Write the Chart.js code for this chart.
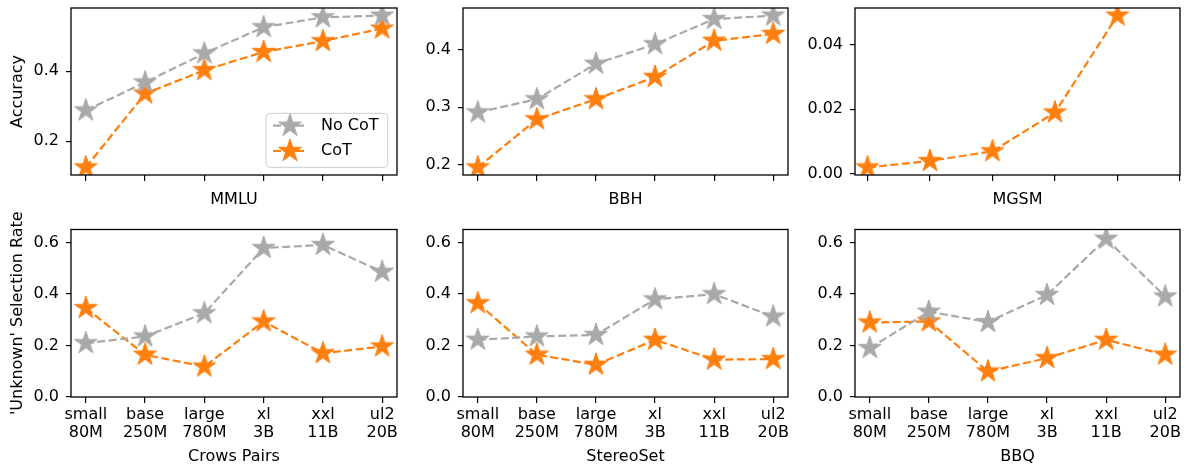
<!DOCTYPE html>
<html><head><meta charset="utf-8">
<script src="https://cdn.jsdelivr.net/npm/chart.js@4.4.1/dist/chart.umd.min.js"></script>
<style>
html,body{margin:0;padding:0;background:#fff;}
#wrap{position:relative;width:1187px;height:468px;overflow:hidden;}
#wrap canvas{position:absolute;left:0;top:0;}
</style></head><body><div id="wrap"></div>
<script>
// ---- data ----
const modelSizes = [['small','80M'],['base','250M'],['large','780M'],['xl','3B'],['xxl','11B'],['ul2','20B']];
const seriesNames = ['No CoT', 'CoT'];
const mmluNoCot   = [0.288, 0.368, 0.451, 0.526, 0.554, 0.559];
const mmluCot     = [0.125, 0.336, 0.403, 0.455, 0.486, 0.522];
const bbhNoCot    = [0.291, 0.314, 0.376, 0.410, 0.454, 0.460];
const bbhCot      = [0.195, 0.279, 0.314, 0.353, 0.416, 0.428];
const mgsmCot     = [0.002, 0.004, 0.007, 0.019, 0.049];
const crowsNoCot  = [0.209, 0.235, 0.325, 0.578, 0.590, 0.486];
const crowsCot    = [0.345, 0.164, 0.118, 0.293, 0.170, 0.196];
const stereoNoCot = [0.222, 0.235, 0.241, 0.379, 0.399, 0.312];
const stereoCot   = [0.364, 0.164, 0.125, 0.222, 0.145, 0.147];
const bbqNoCot    = [0.190, 0.331, 0.291, 0.396, 0.614, 0.390];
const bbqCot      = [0.289, 0.293, 0.099, 0.151, 0.222, 0.164];
const rowTitles   = ['Accuracy', "'Unknown' Selection Rate"];
const panelTitles = ['MMLU', 'BBH', 'MGSM', 'Crows Pairs', 'StereoSet', 'BBQ'];

// ---- styling ----
Chart.defaults.font.family = "'DejaVu Sans', sans-serif";
Chart.defaults.font.size = 16;
Chart.defaults.color = '#000';
const COLORS = ['#a9a9a9', '#ff7f0e'];
const FONT = {family: "'DejaVu Sans', sans-serif", size: 16};

function starImage(color, R) {
  const s = Math.ceil(R * 2 + 2);
  const c = document.createElement('canvas');
  c.width = s; c.height = s;
  const ctx = c.getContext('2d');
  const cx = s / 2, cy = s / 2, r = R * 0.381966;
  ctx.beginPath();
  for (let i = 0; i < 10; i++) {
    const a = -Math.PI / 2 + i * Math.PI / 5;
    const rr = (i % 2) ? r : R;
    ctx.lineTo(cx + rr * Math.cos(a), cy + rr * Math.sin(a));
  }
  ctx.closePath();
  ctx.fillStyle = color; ctx.fill();
  ctx.strokeStyle = color; ctx.lineWidth = 1; ctx.stroke();
  return c;
}
const STARS = COLORS.map(c => starImage(c, 12));

const framePlugin = {
  id: 'frame',
  afterDatasetsDraw(chart) {
    const a = chart.chartArea, ctx = chart.ctx;
    ctx.save();
    ctx.strokeStyle = '#000'; ctx.lineWidth = 1.3;
    ctx.strokeRect(a.left, a.top, a.right - a.left, a.bottom - a.top);
    ctx.restore();
  }
};

const boxLegendPlugin = {
  id: 'boxLegend',
  afterDraw(chart, args, o) {
    if (!o || !o.show) return;
    const ctx = chart.ctx;
    ctx.save();
    const {x, y, w, h} = o;
    ctx.beginPath();
    ctx.roundRect(x, y, w, h, 4);
    ctx.fillStyle = 'rgba(255,255,255,0.8)'; ctx.fill();
    ctx.strokeStyle = '#cccccc'; ctx.lineWidth = 1; ctx.stroke();
    chart.data.datasets.forEach((ds, i) => {
      const cy = y + o.firstY + i * o.rowH;
      ctx.beginPath();
      ctx.setLineDash(ds.borderDash || []);
      ctx.strokeStyle = ds.borderColor; ctx.lineWidth = ds.borderWidth;
      ctx.moveTo(x + 7, cy); ctx.lineTo(x + 41, cy); ctx.stroke();
      ctx.setLineDash([]);
      const img = ds.pointStyle;
      ctx.drawImage(img, x + 24 - img.width / 2, cy - img.height / 2);
      ctx.fillStyle = '#000';
      ctx.font = "16px 'DejaVu Sans', sans-serif";
      ctx.textBaseline = 'middle'; ctx.textAlign = 'left';
      ctx.fillText(ds.label, x + 55, cy);
    });
    ctx.restore();
  }
};

function makeDatasets(series) {
  const out = [];
  series.forEach((vals, k) => {
    if (!vals) return;
    out.push({
      label: seriesNames[k],
      data: vals.map((v, i) => ({x: i, y: v})),
      borderColor: COLORS[k], backgroundColor: COLORS[k],
      borderWidth: 2.2, borderDash: [8, 3.5],
      pointStyle: STARS[k], pointRadius: 11, pointHoverRadius: 11,
      tension: 0, fill: false, clip: 0
    });
  });
  return out;
}

function autoRange(series) {
  const all = [].concat(...series.filter(Boolean));
  const lo = Math.min(...all), hi = Math.max(...all), m = (hi - lo) * 0.05;
  return [lo - m, hi + m];
}

const panels = [
  {series: [mmluNoCot, mmluCot],     area: [71, 8, 397, 175],    step: 0.2,  dec: 1, ytitle: rowTitles[0], labels: false, legend: true},
  {series: [bbhNoCot, bbhCot],       area: [463, 8, 788, 175],   step: 0.1,  dec: 1, labels: false},
  {series: [null, mgsmCot],          area: [855, 8, 1180, 175],  step: 0.02, dec: 2, labels: false},
  {series: [crowsNoCot, crowsCot],   area: [71, 229.5, 397, 397],  step: 0.2, dec: 1, yrange: [0, 0.65], ytitle: rowTitles[1], labels: true},
  {series: [stereoNoCot, stereoCot], area: [463, 229.5, 788, 397], step: 0.2, dec: 1, yrange: [0, 0.65], labels: true},
  {series: [bbqNoCot, bbqCot],       area: [855, 229.5, 1180, 397], step: 0.2, dec: 1, yrange: [0, 0.65], labels: true}
];

const wrap = document.getElementById('wrap');
panels.forEach((p, idx) => {
  const cv = document.createElement('canvas');
  cv.width = 1187; cv.height = 468;
  cv.style.width = '1187px'; cv.style.height = '468px';
  wrap.appendChild(cv);
  const [L, T, R, B] = p.area;
  const W = p.ytitle ? 62.6 : 60;
  const H = p.labels ? 71 : 34;
  const yr = p.yrange || autoRange(p.series);
  const n = Math.max(...p.series.filter(Boolean).map(s => s.length));
  const xmin = -(n - 1) * 0.05;
  const xmax = Math.max((n - 1) * 1.05, modelSizes.length - 1);
  new Chart(cv, {
    type: 'line',
    data: {datasets: makeDatasets(p.series)},
    options: {
      responsive: false, animation: false, devicePixelRatio: 1,
      events: [],
      layout: {autoPadding: false, padding: {left: L - W, top: T, right: 1187 - R, bottom: 468 - B - H}},
      plugins: {
        legend: {display: false}, tooltip: {enabled: false},
        boxLegend: {show: !!p.legend, x: 266, y: 113.3, w: 121.7, h: 54, firstY: 12.4, rowH: 25.3}
      },
      scales: {
        x: {
          type: 'linear', position: 'bottom', min: xmin, max: xmax,
          afterFit(s) { s.height = H; s.paddingLeft = 0; s.paddingRight = 0; s.paddingTop = 0; s.paddingBottom = 0; },
          ticks: {
            stepSize: 1, autoSkip: false, maxRotation: 0, minRotation: 0, includeBounds: false,
            padding: 3, color: '#000', font: {...FONT, lineHeight: 1.1},
            callback: (v) => {
              const i = Math.round(v);
              if (!p.labels) return '';
              return modelSizes[i] || '';
            }
          },
          grid: {display: true, drawOnChartArea: false, drawTicks: true, tickLength: 6, color: '#000', lineWidth: 1.2},
          border: {display: false},
          title: {display: true, text: panelTitles[idx], color: '#000', font: {...FONT, lineHeight: 1.2},
                  padding: {top: 0, bottom: p.labels ? 1.4 : 0}}
        },
        y: {
          type: 'linear', position: 'left', min: yr[0], max: yr[1],
          afterFit(s) { s.width = W; s.paddingLeft = 0; s.paddingRight = 0; s.paddingTop = 0; s.paddingBottom = 0; },
          ticks: {
            stepSize: p.step, includeBounds: false, padding: 7, color: '#000', font: FONT,
            callback: (v) => Number(v).toFixed(p.dec)
          },
          grid: {display: true, drawOnChartArea: false, drawTicks: true, tickLength: 5, color: '#000', lineWidth: 1.2},
          border: {display: false},
          title: {display: !!p.ytitle, text: p.ytitle || '', color: '#000', font: {...FONT, lineHeight: 1.2},
                  padding: {top: 0, bottom: 0}}
        }
      }
    },
    plugins: [framePlugin, boxLegendPlugin]
  });
});
</script>
</body></html>
